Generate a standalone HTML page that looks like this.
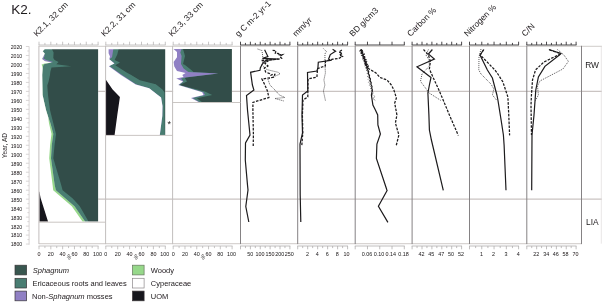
<!DOCTYPE html>
<html><head><meta charset="utf-8"><title>K2</title>
<style>html,body{margin:0;padding:0;background:#fff;overflow:hidden}svg{display:block}</style>
</head><body>
<svg width="602" height="302" viewBox="0 0 602 302">
<defs><filter id="soft" x="0" y="0" width="602" height="302" filterUnits="userSpaceOnUse"><feGaussianBlur stdDeviation="0.38"/></filter><filter id="softt" x="0" y="0" width="602" height="302" filterUnits="userSpaceOnUse"><feGaussianBlur stdDeviation="0.22"/></filter></defs>
<rect width="602" height="302" fill="#ffffff"/>
<g filter="url(#soft)">
<rect width="602" height="302" fill="#ffffff"/>
<rect x="36.4" y="46.3" width="61.7" height="178.3" fill="#324d48"/>
<polygon points="36.4,47.3 52.0,47.3 52.0,49.3 53.6,52.6 53.3,58.0 54.6,60.0 58.6,62.0 56.3,64.3 71.2,66.3 51.5,67.6 50.3,72.0 50.0,75.0 48.6,81.6 47.3,85.6 48.0,95.0 50.0,110.0 53.3,123.3 56.0,134.0 54.6,145.0 53.3,158.3 57.2,171.6 61.2,185.0 62.6,190.3 72.5,198.3 79.8,206.3 88.5,221.6 88.5,223.6 36.4,223.6" fill="#497d72"/>
<polygon points="36.4,47.3 44.5,47.3 44.5,49.3 42.7,51.3 44.7,53.6 44.4,56.6 43.4,58.6 46.8,60.2 53.2,62.0 44.6,64.0 43.3,65.3 42.6,68.6 42.2,75.0 42.6,95.0 46.0,110.0 48.6,118.0 50.5,123.3 53.3,134.0 51.8,145.0 51.0,158.3 54.7,185.0 55.9,190.3 74.5,206.3 85.1,221.6 85.1,223.6 36.4,223.6" fill="#9080c4"/>
<polygon points="36.4,47.3 44.5,47.3 44.5,49.3 42.7,51.3 44.7,53.6 43.6,56.0 42.0,58.9 45.0,61.3 51.8,62.5 44.6,64.0 43.3,65.3 42.6,68.6 42.2,75.0 42.6,95.0 46.0,110.0 48.6,118.0 50.5,123.3 53.3,134.0 51.8,145.0 51.0,158.3 54.7,185.0 55.9,190.3 74.5,206.3 85.1,221.6 85.1,223.6 36.4,223.6" fill="#96d88a"/>
<polygon points="36.4,47.3 44.5,47.3 44.5,49.3 42.7,51.3 44.7,53.6 43.6,56.0 42.0,58.9 45.0,61.3 51.8,62.5 44.6,63.6 41.6,64.4 42.4,66.8 42.6,68.6 42.2,75.0 42.6,95.0 46.0,110.0 48.2,117.0 49.0,123.3 51.5,134.0 50.1,145.0 49.2,158.3 52.6,185.0 53.2,190.3 71.8,206.3 82.5,221.6 82.5,223.6 36.4,223.6" fill="#ffffff"/>
<polygon points="36,191.8 39.4,191.8 40.6,198 42.8,205 48.0,221.6 48.5,225 36,225" fill="#17121a"/>
<polygon points="35.4,45.3 99.1,45.3 99.1,49.3 39.4,49.3 39.4,221.6 99.1,221.6 99.1,225.6 35.4,225.6" fill="#fff"/>
<rect x="102.9" y="46.3" width="62.3" height="91.6" fill="#324d48"/>
<polygon points="102.9,47.3 118.6,47.3 118.6,49.3 117.3,54.6 114.6,60.0 120.0,62.6 115.3,65.3 126.6,72.6 131.2,75.0 139.9,80.3 155.8,84.3 162.5,89.6 164.5,92.5 164.6,115.0 164.9,134.9 164.9,136.9 102.9,136.9" fill="#497d72"/>
<polygon points="102.9,47.3 113.3,47.3 113.3,49.3 112.0,57.3 109.3,59.3 114.6,63.3 109.3,66.0 121.3,74.5 135.9,84.3 149.2,88.3 161.1,97.6 162.5,106.0 162.3,116.0 159.8,134.9 159.8,136.9 102.9,136.9" fill="#9080c4"/>
<polygon points="102.9,47.3 108.6,47.3 108.6,49.3 108.6,53.3 110.0,56.6 109.3,59.3 114.4,63.4 108.9,66.2 120.9,74.9 135.7,84.6 149.2,88.3 161.1,97.6 162.5,106.0 162.3,116.0 159.8,134.9 159.8,136.9 102.9,136.9" fill="#ffffff"/>
<polygon points="102,79.7 105.9,79.7 112.6,89.6 119.9,97 117.3,114.9 114.6,134.9 114.3,138 102,138" fill="#17121a"/>
<polygon points="101.9,45.3 166.2,45.3 166.2,49.3 105.9,49.3 105.9,134.9 166.2,134.9 166.2,138.9 101.9,138.9" fill="#fff"/>
<rect x="170.1" y="46.0" width="61.8" height="59.1" fill="#324d48"/>
<polygon points="170.1,47.0 183.0,47.0 183.0,49.0 185.0,56.0 183.0,64.0 185.0,65.0 191.6,70.3 193.5,72.0 218.2,73.6 186.0,77.6 185.0,78.3 187.0,81.6 179.6,85.0 204.9,91.6 212.2,94.9 196.9,98.2 201.9,102.1 201.9,104.1 170.1,104.1" fill="#497d72"/>
<polygon points="170.1,47.0 181.6,47.0 181.6,49.0 180.3,52.6 181.6,56.0 181.0,64.0 183.6,68.6 188.3,72.0 218.2,73.6 185.0,77.6 181.0,78.5 183.5,81.6 178.8,85.0 203.5,92.2 205.0,94.9 192.5,98.0 199.3,102.1 199.3,104.1 170.1,104.1" fill="#9080c4"/>
<polygon points="170.1,47.0 173.6,47.0 173.6,49.0 177.0,52.0 177.0,57.3 173.6,62.0 174.3,66.6 177.0,71.0 185.6,73.0 182.3,75.0 183.6,77.0 176.3,78.5 183.0,81.6 178.3,85.0 202.2,92.2 203.5,94.9 191.0,98.0 198.5,102.1 198.5,104.1 170.1,104.1" fill="#ffffff"/>
<polygon points="169.1,45.0 232.9,45.0 232.9,49.0 173.1,49.0 173.1,102.1 232.9,102.1 232.9,106.1 169.1,106.1" fill="#fff"/>
<g stroke="#a59c98" stroke-width="0.75" fill="none">
<line x1="38.9" y1="46.3" x2="602" y2="46.3" stroke="#cbc6c4" stroke-width="0.9"/>
<line x1="38.9" y1="243.6" x2="581.5" y2="243.6" stroke="#d8d4d2" stroke-width="1.3"/>
<path d="M98.1,91.3 H105.9 M165.2,91.3 H173.1 M231.9,91.3 H602"/>
<line x1="98.1" y1="199.1" x2="602" y2="199.1"/>
<line x1="601.3" y1="46.3" x2="601.3" y2="243.6" stroke="#e0dcdc"/>
</g>
<line x1="38.9" y1="45.8" x2="38.9" y2="244.1" stroke="#c2bebd" stroke-width="1"/>
<line x1="105.6" y1="45.8" x2="105.6" y2="244.1" stroke="#c2bebd" stroke-width="1"/>
<line x1="172.6" y1="45.8" x2="172.6" y2="244.1" stroke="#c2bebd" stroke-width="1"/>
<line x1="240.5" y1="45.8" x2="240.5" y2="244.1" stroke="#858284" stroke-width="1"/>
<line x1="297.7" y1="45.8" x2="297.7" y2="244.1" stroke="#858284" stroke-width="1"/>
<line x1="355.2" y1="45.8" x2="355.2" y2="244.1" stroke="#858284" stroke-width="1"/>
<line x1="412.1" y1="45.8" x2="412.1" y2="244.1" stroke="#858284" stroke-width="1"/>
<line x1="469.5" y1="45.8" x2="469.5" y2="244.1" stroke="#858284" stroke-width="1"/>
<line x1="526.8" y1="45.8" x2="526.8" y2="244.1" stroke="#858284" stroke-width="1"/>
<line x1="581.5" y1="45.8" x2="581.5" y2="244.1" stroke="#858284" stroke-width="1"/>
<line x1="38.9" y1="222.2" x2="105.6" y2="222.2" stroke="#c4bfbc" stroke-width="0.9"/>
<line x1="105.6" y1="135.4" x2="172.6" y2="135.4" stroke="#c4bfbc" stroke-width="0.9"/>
<line x1="172.6" y1="102.5" x2="240.5" y2="102.5" stroke="#c4bfbc" stroke-width="0.9"/>
<g stroke="#b9b6b6" stroke-width="0.80" fill="none">
<line x1="38.6" y1="45.0" x2="98.5" y2="45.0"/>
<line x1="39.00" y1="45.0" x2="39.00" y2="41.7"/>
<line x1="44.91" y1="45.0" x2="44.91" y2="42.9"/>
<line x1="50.82" y1="45.0" x2="50.82" y2="41.7"/>
<line x1="56.73" y1="45.0" x2="56.73" y2="42.9"/>
<line x1="62.64" y1="45.0" x2="62.64" y2="41.7"/>
<line x1="68.55" y1="45.0" x2="68.55" y2="42.9"/>
<line x1="74.46" y1="45.0" x2="74.46" y2="41.7"/>
<line x1="80.37" y1="45.0" x2="80.37" y2="42.9"/>
<line x1="86.28" y1="45.0" x2="86.28" y2="41.7"/>
<line x1="92.19" y1="45.0" x2="92.19" y2="42.9"/>
<line x1="98.10" y1="45.0" x2="98.10" y2="41.7"/>
</g>
<g stroke="#b9b6b6" stroke-width="0.80" fill="none">
<line x1="38.6" y1="246.0" x2="98.5" y2="246.0"/>
<line x1="39.00" y1="246.0" x2="39.00" y2="249.3"/>
<line x1="44.91" y1="246.0" x2="44.91" y2="248.1"/>
<line x1="50.82" y1="246.0" x2="50.82" y2="249.3"/>
<line x1="56.73" y1="246.0" x2="56.73" y2="248.1"/>
<line x1="62.64" y1="246.0" x2="62.64" y2="249.3"/>
<line x1="68.55" y1="246.0" x2="68.55" y2="248.1"/>
<line x1="74.46" y1="246.0" x2="74.46" y2="249.3"/>
<line x1="80.37" y1="246.0" x2="80.37" y2="248.1"/>
<line x1="86.28" y1="246.0" x2="86.28" y2="249.3"/>
<line x1="92.19" y1="246.0" x2="92.19" y2="248.1"/>
<line x1="98.10" y1="246.0" x2="98.10" y2="249.3"/>
</g>
<g stroke="#b9b6b6" stroke-width="0.80" fill="none">
<line x1="105.4" y1="45.0" x2="165.7" y2="45.0"/>
<line x1="105.80" y1="45.0" x2="105.80" y2="41.7"/>
<line x1="111.75" y1="45.0" x2="111.75" y2="42.9"/>
<line x1="117.70" y1="45.0" x2="117.70" y2="41.7"/>
<line x1="123.65" y1="45.0" x2="123.65" y2="42.9"/>
<line x1="129.60" y1="45.0" x2="129.60" y2="41.7"/>
<line x1="135.55" y1="45.0" x2="135.55" y2="42.9"/>
<line x1="141.50" y1="45.0" x2="141.50" y2="41.7"/>
<line x1="147.45" y1="45.0" x2="147.45" y2="42.9"/>
<line x1="153.40" y1="45.0" x2="153.40" y2="41.7"/>
<line x1="159.35" y1="45.0" x2="159.35" y2="42.9"/>
<line x1="165.30" y1="45.0" x2="165.30" y2="41.7"/>
</g>
<g stroke="#b9b6b6" stroke-width="0.80" fill="none">
<line x1="105.4" y1="246.0" x2="165.7" y2="246.0"/>
<line x1="105.80" y1="246.0" x2="105.80" y2="249.3"/>
<line x1="111.75" y1="246.0" x2="111.75" y2="248.1"/>
<line x1="117.70" y1="246.0" x2="117.70" y2="249.3"/>
<line x1="123.65" y1="246.0" x2="123.65" y2="248.1"/>
<line x1="129.60" y1="246.0" x2="129.60" y2="249.3"/>
<line x1="135.55" y1="246.0" x2="135.55" y2="248.1"/>
<line x1="141.50" y1="246.0" x2="141.50" y2="249.3"/>
<line x1="147.45" y1="246.0" x2="147.45" y2="248.1"/>
<line x1="153.40" y1="246.0" x2="153.40" y2="249.3"/>
<line x1="159.35" y1="246.0" x2="159.35" y2="248.1"/>
<line x1="165.30" y1="246.0" x2="165.30" y2="249.3"/>
</g>
<g stroke="#b9b6b6" stroke-width="0.80" fill="none">
<line x1="172.8" y1="45.0" x2="232.5" y2="45.0"/>
<line x1="173.20" y1="45.0" x2="173.20" y2="41.7"/>
<line x1="179.09" y1="45.0" x2="179.09" y2="42.9"/>
<line x1="184.98" y1="45.0" x2="184.98" y2="41.7"/>
<line x1="190.87" y1="45.0" x2="190.87" y2="42.9"/>
<line x1="196.76" y1="45.0" x2="196.76" y2="41.7"/>
<line x1="202.65" y1="45.0" x2="202.65" y2="42.9"/>
<line x1="208.54" y1="45.0" x2="208.54" y2="41.7"/>
<line x1="214.43" y1="45.0" x2="214.43" y2="42.9"/>
<line x1="220.32" y1="45.0" x2="220.32" y2="41.7"/>
<line x1="226.21" y1="45.0" x2="226.21" y2="42.9"/>
<line x1="232.10" y1="45.0" x2="232.10" y2="41.7"/>
</g>
<g stroke="#b9b6b6" stroke-width="0.80" fill="none">
<line x1="172.8" y1="246.0" x2="232.5" y2="246.0"/>
<line x1="173.20" y1="246.0" x2="173.20" y2="249.3"/>
<line x1="179.09" y1="246.0" x2="179.09" y2="248.1"/>
<line x1="184.98" y1="246.0" x2="184.98" y2="249.3"/>
<line x1="190.87" y1="246.0" x2="190.87" y2="248.1"/>
<line x1="196.76" y1="246.0" x2="196.76" y2="249.3"/>
<line x1="202.65" y1="246.0" x2="202.65" y2="248.1"/>
<line x1="208.54" y1="246.0" x2="208.54" y2="249.3"/>
<line x1="214.43" y1="246.0" x2="214.43" y2="248.1"/>
<line x1="220.32" y1="246.0" x2="220.32" y2="249.3"/>
<line x1="226.21" y1="246.0" x2="226.21" y2="248.1"/>
<line x1="232.10" y1="246.0" x2="232.10" y2="249.3"/>
</g>
<g stroke="#403e40" stroke-width="0.95" fill="none">
<line x1="240.1" y1="45.0" x2="290.3" y2="45.0"/>
<line x1="240.50" y1="45.0" x2="240.50" y2="41.7"/>
<line x1="245.44" y1="45.0" x2="245.44" y2="42.9"/>
<line x1="250.38" y1="45.0" x2="250.38" y2="41.7"/>
<line x1="255.32" y1="45.0" x2="255.32" y2="42.9"/>
<line x1="260.26" y1="45.0" x2="260.26" y2="41.7"/>
<line x1="265.20" y1="45.0" x2="265.20" y2="42.9"/>
<line x1="270.14" y1="45.0" x2="270.14" y2="41.7"/>
<line x1="275.08" y1="45.0" x2="275.08" y2="42.9"/>
<line x1="280.02" y1="45.0" x2="280.02" y2="41.7"/>
<line x1="284.96" y1="45.0" x2="284.96" y2="42.9"/>
<line x1="289.90" y1="45.0" x2="289.90" y2="41.7"/>
</g>
<g stroke="#b0adad" stroke-width="0.80" fill="none">
<line x1="240.1" y1="246.0" x2="290.3" y2="246.0"/>
<line x1="240.50" y1="246.0" x2="240.50" y2="249.3"/>
<line x1="245.44" y1="246.0" x2="245.44" y2="248.1"/>
<line x1="250.38" y1="246.0" x2="250.38" y2="249.3"/>
<line x1="255.32" y1="246.0" x2="255.32" y2="248.1"/>
<line x1="260.26" y1="246.0" x2="260.26" y2="249.3"/>
<line x1="265.20" y1="246.0" x2="265.20" y2="248.1"/>
<line x1="270.14" y1="246.0" x2="270.14" y2="249.3"/>
<line x1="275.08" y1="246.0" x2="275.08" y2="248.1"/>
<line x1="280.02" y1="246.0" x2="280.02" y2="249.3"/>
<line x1="284.96" y1="246.0" x2="284.96" y2="248.1"/>
<line x1="289.90" y1="246.0" x2="289.90" y2="249.3"/>
</g>
<g stroke="#403e40" stroke-width="0.95" fill="none">
<line x1="297.3" y1="45.0" x2="348.0" y2="45.0"/>
<line x1="297.70" y1="45.0" x2="297.70" y2="41.7"/>
<line x1="302.69" y1="45.0" x2="302.69" y2="42.9"/>
<line x1="307.68" y1="45.0" x2="307.68" y2="41.7"/>
<line x1="312.67" y1="45.0" x2="312.67" y2="42.9"/>
<line x1="317.66" y1="45.0" x2="317.66" y2="41.7"/>
<line x1="322.65" y1="45.0" x2="322.65" y2="42.9"/>
<line x1="327.64" y1="45.0" x2="327.64" y2="41.7"/>
<line x1="332.63" y1="45.0" x2="332.63" y2="42.9"/>
<line x1="337.62" y1="45.0" x2="337.62" y2="41.7"/>
<line x1="342.61" y1="45.0" x2="342.61" y2="42.9"/>
<line x1="347.60" y1="45.0" x2="347.60" y2="41.7"/>
</g>
<g stroke="#b0adad" stroke-width="0.80" fill="none">
<line x1="297.3" y1="246.0" x2="348.0" y2="246.0"/>
<line x1="297.70" y1="246.0" x2="297.70" y2="249.3"/>
<line x1="302.69" y1="246.0" x2="302.69" y2="248.1"/>
<line x1="307.68" y1="246.0" x2="307.68" y2="249.3"/>
<line x1="312.67" y1="246.0" x2="312.67" y2="248.1"/>
<line x1="317.66" y1="246.0" x2="317.66" y2="249.3"/>
<line x1="322.65" y1="246.0" x2="322.65" y2="248.1"/>
<line x1="327.64" y1="246.0" x2="327.64" y2="249.3"/>
<line x1="332.63" y1="246.0" x2="332.63" y2="248.1"/>
<line x1="337.62" y1="246.0" x2="337.62" y2="249.3"/>
<line x1="342.61" y1="246.0" x2="342.61" y2="248.1"/>
<line x1="347.60" y1="246.0" x2="347.60" y2="249.3"/>
</g>
<g stroke="#403e40" stroke-width="0.95" fill="none">
<line x1="354.8" y1="45.0" x2="404.7" y2="45.0"/>
<line x1="355.20" y1="45.0" x2="355.20" y2="41.7"/>
<line x1="367.48" y1="45.0" x2="367.48" y2="41.7"/>
<line x1="379.75" y1="45.0" x2="379.75" y2="41.7"/>
<line x1="392.02" y1="45.0" x2="392.02" y2="41.7"/>
<line x1="404.30" y1="45.0" x2="404.30" y2="41.7"/>
</g>
<g stroke="#b0adad" stroke-width="0.80" fill="none">
<line x1="354.8" y1="246.0" x2="404.7" y2="246.0"/>
<line x1="355.20" y1="246.0" x2="355.20" y2="249.3"/>
<line x1="367.48" y1="246.0" x2="367.48" y2="249.3"/>
<line x1="379.75" y1="246.0" x2="379.75" y2="249.3"/>
<line x1="392.02" y1="246.0" x2="392.02" y2="249.3"/>
<line x1="404.30" y1="246.0" x2="404.30" y2="249.3"/>
</g>
<g stroke="#403e40" stroke-width="0.95" fill="none">
<line x1="411.7" y1="45.0" x2="462.0" y2="45.0"/>
<line x1="412.10" y1="45.0" x2="412.10" y2="41.7"/>
<line x1="417.05" y1="45.0" x2="417.05" y2="42.9"/>
<line x1="422.00" y1="45.0" x2="422.00" y2="41.7"/>
<line x1="426.95" y1="45.0" x2="426.95" y2="42.9"/>
<line x1="431.90" y1="45.0" x2="431.90" y2="41.7"/>
<line x1="436.85" y1="45.0" x2="436.85" y2="42.9"/>
<line x1="441.80" y1="45.0" x2="441.80" y2="41.7"/>
<line x1="446.75" y1="45.0" x2="446.75" y2="42.9"/>
<line x1="451.70" y1="45.0" x2="451.70" y2="41.7"/>
<line x1="456.65" y1="45.0" x2="456.65" y2="42.9"/>
<line x1="461.60" y1="45.0" x2="461.60" y2="41.7"/>
</g>
<g stroke="#b0adad" stroke-width="0.80" fill="none">
<line x1="411.7" y1="246.0" x2="462.0" y2="246.0"/>
<line x1="412.10" y1="246.0" x2="412.10" y2="249.3"/>
<line x1="417.05" y1="246.0" x2="417.05" y2="248.1"/>
<line x1="422.00" y1="246.0" x2="422.00" y2="249.3"/>
<line x1="426.95" y1="246.0" x2="426.95" y2="248.1"/>
<line x1="431.90" y1="246.0" x2="431.90" y2="249.3"/>
<line x1="436.85" y1="246.0" x2="436.85" y2="248.1"/>
<line x1="441.80" y1="246.0" x2="441.80" y2="249.3"/>
<line x1="446.75" y1="246.0" x2="446.75" y2="248.1"/>
<line x1="451.70" y1="246.0" x2="451.70" y2="249.3"/>
<line x1="456.65" y1="246.0" x2="456.65" y2="248.1"/>
<line x1="461.60" y1="246.0" x2="461.60" y2="249.3"/>
</g>
<g stroke="#403e40" stroke-width="0.95" fill="none">
<line x1="469.1" y1="45.0" x2="519.0" y2="45.0"/>
<line x1="469.50" y1="45.0" x2="469.50" y2="41.7"/>
<line x1="475.64" y1="45.0" x2="475.64" y2="42.9"/>
<line x1="481.77" y1="45.0" x2="481.77" y2="41.7"/>
<line x1="487.91" y1="45.0" x2="487.91" y2="42.9"/>
<line x1="494.05" y1="45.0" x2="494.05" y2="41.7"/>
<line x1="500.19" y1="45.0" x2="500.19" y2="42.9"/>
<line x1="506.33" y1="45.0" x2="506.33" y2="41.7"/>
<line x1="512.46" y1="45.0" x2="512.46" y2="42.9"/>
<line x1="518.60" y1="45.0" x2="518.60" y2="41.7"/>
</g>
<g stroke="#b0adad" stroke-width="0.80" fill="none">
<line x1="469.1" y1="246.0" x2="519.0" y2="246.0"/>
<line x1="469.50" y1="246.0" x2="469.50" y2="249.3"/>
<line x1="475.64" y1="246.0" x2="475.64" y2="248.1"/>
<line x1="481.77" y1="246.0" x2="481.77" y2="249.3"/>
<line x1="487.91" y1="246.0" x2="487.91" y2="248.1"/>
<line x1="494.05" y1="246.0" x2="494.05" y2="249.3"/>
<line x1="500.19" y1="246.0" x2="500.19" y2="248.1"/>
<line x1="506.33" y1="246.0" x2="506.33" y2="249.3"/>
<line x1="512.46" y1="246.0" x2="512.46" y2="248.1"/>
<line x1="518.60" y1="246.0" x2="518.60" y2="249.3"/>
</g>
<g stroke="#403e40" stroke-width="0.95" fill="none">
<line x1="526.4" y1="45.0" x2="576.5" y2="45.0"/>
<line x1="526.80" y1="45.0" x2="526.80" y2="41.7"/>
<line x1="531.73" y1="45.0" x2="531.73" y2="42.9"/>
<line x1="536.66" y1="45.0" x2="536.66" y2="41.7"/>
<line x1="541.59" y1="45.0" x2="541.59" y2="42.9"/>
<line x1="546.52" y1="45.0" x2="546.52" y2="41.7"/>
<line x1="551.45" y1="45.0" x2="551.45" y2="42.9"/>
<line x1="556.38" y1="45.0" x2="556.38" y2="41.7"/>
<line x1="561.31" y1="45.0" x2="561.31" y2="42.9"/>
<line x1="566.24" y1="45.0" x2="566.24" y2="41.7"/>
<line x1="571.17" y1="45.0" x2="571.17" y2="42.9"/>
<line x1="576.10" y1="45.0" x2="576.10" y2="41.7"/>
</g>
<g stroke="#b0adad" stroke-width="0.80" fill="none">
<line x1="526.4" y1="246.0" x2="576.5" y2="246.0"/>
<line x1="526.80" y1="246.0" x2="526.80" y2="249.3"/>
<line x1="531.73" y1="246.0" x2="531.73" y2="248.1"/>
<line x1="536.66" y1="246.0" x2="536.66" y2="249.3"/>
<line x1="541.59" y1="246.0" x2="541.59" y2="248.1"/>
<line x1="546.52" y1="246.0" x2="546.52" y2="249.3"/>
<line x1="551.45" y1="246.0" x2="551.45" y2="248.1"/>
<line x1="556.38" y1="246.0" x2="556.38" y2="249.3"/>
<line x1="561.31" y1="246.0" x2="561.31" y2="248.1"/>
<line x1="566.24" y1="246.0" x2="566.24" y2="249.3"/>
<line x1="571.17" y1="246.0" x2="571.17" y2="248.1"/>
<line x1="576.10" y1="246.0" x2="576.10" y2="249.3"/>
</g>
<g stroke="#cfcccc" stroke-width="0.8">
<line x1="29.1" y1="46.5" x2="29.1" y2="244.7"/>
<line x1="25.9" y1="244.06" x2="29.1" y2="244.06"/>
<line x1="27.4" y1="239.57" x2="29.1" y2="239.57"/>
<line x1="25.9" y1="235.08" x2="29.1" y2="235.08"/>
<line x1="27.4" y1="230.59" x2="29.1" y2="230.59"/>
<line x1="25.9" y1="226.10" x2="29.1" y2="226.10"/>
<line x1="27.4" y1="221.61" x2="29.1" y2="221.61"/>
<line x1="25.9" y1="217.12" x2="29.1" y2="217.12"/>
<line x1="27.4" y1="212.63" x2="29.1" y2="212.63"/>
<line x1="25.9" y1="208.14" x2="29.1" y2="208.14"/>
<line x1="27.4" y1="203.65" x2="29.1" y2="203.65"/>
<line x1="25.9" y1="199.16" x2="29.1" y2="199.16"/>
<line x1="27.4" y1="194.67" x2="29.1" y2="194.67"/>
<line x1="25.9" y1="190.18" x2="29.1" y2="190.18"/>
<line x1="27.4" y1="185.69" x2="29.1" y2="185.69"/>
<line x1="25.9" y1="181.20" x2="29.1" y2="181.20"/>
<line x1="27.4" y1="176.71" x2="29.1" y2="176.71"/>
<line x1="25.9" y1="172.22" x2="29.1" y2="172.22"/>
<line x1="27.4" y1="167.73" x2="29.1" y2="167.73"/>
<line x1="25.9" y1="163.24" x2="29.1" y2="163.24"/>
<line x1="27.4" y1="158.75" x2="29.1" y2="158.75"/>
<line x1="25.9" y1="154.26" x2="29.1" y2="154.26"/>
<line x1="27.4" y1="149.77" x2="29.1" y2="149.77"/>
<line x1="25.9" y1="145.28" x2="29.1" y2="145.28"/>
<line x1="27.4" y1="140.79" x2="29.1" y2="140.79"/>
<line x1="25.9" y1="136.30" x2="29.1" y2="136.30"/>
<line x1="27.4" y1="131.81" x2="29.1" y2="131.81"/>
<line x1="25.9" y1="127.32" x2="29.1" y2="127.32"/>
<line x1="27.4" y1="122.83" x2="29.1" y2="122.83"/>
<line x1="25.9" y1="118.34" x2="29.1" y2="118.34"/>
<line x1="27.4" y1="113.85" x2="29.1" y2="113.85"/>
<line x1="25.9" y1="109.36" x2="29.1" y2="109.36"/>
<line x1="27.4" y1="104.87" x2="29.1" y2="104.87"/>
<line x1="25.9" y1="100.38" x2="29.1" y2="100.38"/>
<line x1="27.4" y1="95.89" x2="29.1" y2="95.89"/>
<line x1="25.9" y1="91.40" x2="29.1" y2="91.40"/>
<line x1="27.4" y1="86.91" x2="29.1" y2="86.91"/>
<line x1="25.9" y1="82.42" x2="29.1" y2="82.42"/>
<line x1="27.4" y1="77.93" x2="29.1" y2="77.93"/>
<line x1="25.9" y1="73.44" x2="29.1" y2="73.44"/>
<line x1="27.4" y1="68.95" x2="29.1" y2="68.95"/>
<line x1="25.9" y1="64.46" x2="29.1" y2="64.46"/>
<line x1="27.4" y1="59.97" x2="29.1" y2="59.97"/>
<line x1="25.9" y1="55.48" x2="29.1" y2="55.48"/>
<line x1="27.4" y1="50.99" x2="29.1" y2="50.99"/>
<line x1="25.9" y1="46.50" x2="29.1" y2="46.50"/>
</g>
<polyline points="264.6,49.7 267.9,56.6 262.6,58.3 278.6,59.0 266.0,60.3 262.3,64.0 260.3,68.0 260.0,70.3 250.6,72.3 252.4,85.0 253.9,90.0 246.5,95.5 247.5,110.0 250.0,135.0 245.5,143.0 245.3,160.0 247.5,185.0 248.0,190.0 245.8,206.5 248.8,222.0" fill="none" stroke="#1c1a1c" stroke-width="1.2" stroke-linejoin="miter"/>
<polyline points="272.6,50.3 276.0,50.6 275.3,53.3 278.6,53.6 278.0,55.0 282.6,54.6 279.9,56.6 281.6,58.3 278.6,59.1 261.0,60.5 266.0,61.0 267.6,61.5 265.0,63.5 267.9,66.0 264.3,68.0 265.6,72.0 269.6,73.6 270.9,75.3 272.9,74.3 274.9,74.3 273.6,77.3 261.9,79.0 264.9,85.0 267.4,91.0 268.9,97.5 252.9,102.4 252.9,110.0 253.4,135.0 253.2,146.5" fill="none" stroke="#1c1a1c" stroke-width="1.25" stroke-dasharray="2.6,1.3"/>
<polyline points="257.6,49.0 262.0,50.6 262.6,55.3 263.0,60.0 262.0,65.0 266.9,69.6 278.2,72.3 280.2,74.0 267.9,79.0 269.9,85.0 274.9,90.0 279.4,95.0 284.9,97.5 274.9,98.5 283.9,101.0" fill="none" stroke="#1c1a1c" stroke-width="0.75" stroke-dasharray="1,1.05"/>
<polyline points="332.6,49.3 335.6,51.3 333.9,52.3 330.3,54.6 328.6,59.0 330.6,60.3 318.3,62.2 317.9,68.0 316.9,71.0 307.5,72.5 307.8,91.0 302.5,95.0 302.0,115.0 302.5,133.0 300.0,144.0 300.2,195.0 300.8,222.0" fill="none" stroke="#1c1a1c" stroke-width="1.2" stroke-linejoin="miter"/>
<polyline points="341.9,50.0 338.9,52.0 342.4,53.5 339.4,55.0 342.4,56.5 338.9,58.4 332.9,59.1 325.4,61.0 325.4,66.0 321.9,67.0 317.9,68.5 317.4,71.0 316.9,77.0 308.0,79.0 307.8,97.0 303.0,100.0 302.4,115.0 302.8,133.0 301.8,145.5" fill="none" stroke="#1c1a1c" stroke-width="1.25" stroke-dasharray="2.6,1.3"/>
<polyline points="323.4,48.5 326.4,51.5 324.9,54.0 325.1,67.0 325.4,73.0 323.9,80.0 324.9,85.0 323.4,91.0 325.4,100.5" fill="none" stroke="#1c1a1c" stroke-width="0.75" stroke-dasharray="1,1.05"/>
<polyline points="361.8,49.5 360.5,50.7 362.7,52.0 361.4,53.2 363.7,54.4 362.5,55.7 364.3,56.9 363.1,58.1 365.3,59.4 364.2,60.6 366.5,61.8 365.0,63.1 367.3,64.3 365.9,65.5 368.1,66.8 366.9,68.0 367.6,69.8 368.7,71.7 368.3,73.5 369.5,75.3 369.2,77.2 370.4,79.0 370.1,80.8 371.2,82.7 370.9,84.5 372.0,86.3 371.7,88.2 372.4,90.0 371.4,95.0 372.9,105.0 375.4,110.0 377.7,115.0 377.9,125.0 380.4,134.0 376.9,144.0 376.4,158.4 386.9,190.0 387.1,190.5 378.4,206.2 387.9,222.4" fill="none" stroke="#1c1a1c" stroke-width="1.2" stroke-linejoin="miter"/>
<polyline points="360.5,49.6 363.2,51.1 361.6,52.6 364.1,54.1 362.5,55.6 364.8,57.1 363.5,58.6 366.1,60.0 364.8,61.5 366.9,63.0 365.5,64.5 368.1,66.0 366.6,67.5 369.3,69.0 376.0,73.0 380.0,77.5 387.0,80.0 391.4,85.0 393.9,90.0 396.4,98.0 394.7,103.0 396.9,115.0 395.4,123.0 397.4,130.0 398.9,135.0 396.1,146.0" fill="none" stroke="#1c1a1c" stroke-width="1.25" stroke-dasharray="2.6,1.3"/>
<polyline points="361.5,50.0 359.4,51.1 362.0,52.1 360.2,53.2 362.8,54.2 360.9,55.3 363.7,56.4 362.0,57.4 364.1,58.5 362.7,59.5 365.2,60.6 363.3,61.6 365.8,62.7 364.1,63.8 366.4,64.8 364.8,65.9 367.1,66.9 365.4,68.0 367.3,69.4 366.4,70.9 368.2,72.3 367.1,73.7 368.5,75.1 367.5,76.6 369.4,78.0 368.1,79.4 369.7,80.9 368.5,82.3 370.1,83.7 369.1,85.1 370.8,86.6 371.0,90.0 373.5,92.5 372.0,94.5 375.0,96.5 373.0,98.5 376.0,101.0" fill="none" stroke="#1c1a1c" stroke-width="0.75" stroke-dasharray="1,1.05"/>
<polyline points="432.4,49.5 428.4,54.0 434.4,59.0 417.0,66.8 431.0,77.4 429.4,85.0 427.9,93.0 428.9,115.0 429.4,130.0 431.4,140.0 443.3,190.4" fill="none" stroke="#1c1a1c" stroke-width="1.2" stroke-linejoin="miter"/>
<polyline points="423.5,49.5 428.4,55.0 430.4,61.4 429.4,69.0 432.9,77.0 438.9,90.0 441.9,97.0 449.4,115.0 458.3,135.4" fill="none" stroke="#1c1a1c" stroke-width="1.25" stroke-dasharray="2.6,1.3"/>
<polyline points="428.4,49.5 426.0,55.0 429.0,60.0 429.4,66.0 422.0,74.0 420.5,81.4 427.0,90.0 428.4,92.5 440.9,100.5" fill="none" stroke="#1c1a1c" stroke-width="0.75" stroke-dasharray="1,1.05"/>
<polyline points="483.9,49.5 480.0,55.0 487.4,70.0 492.4,78.0 496.9,95.0 497.9,100.0 501.1,120.0 503.4,135.0 504.1,145.0 506.0,190.2" fill="none" stroke="#1c1a1c" stroke-width="1.2" stroke-linejoin="miter"/>
<polyline points="483.5,49.8 480.3,55.0 494.9,70.0 497.9,74.0 502.9,82.0 506.9,94.0 507.9,97.0 508.9,118.0 509.6,135.4" fill="none" stroke="#1c1a1c" stroke-width="1.25" stroke-dasharray="2.6,1.3"/>
<polyline points="481.0,49.0 479.0,57.0 478.8,70.0 481.0,74.0 490.9,84.0 493.9,89.0 492.4,95.0 496.9,100.5" fill="none" stroke="#1c1a1c" stroke-width="0.75" stroke-dasharray="1,1.05"/>
<polyline points="548.9,49.5 560.9,53.5 559.4,55.0 544.9,66.4 538.4,77.0 535.8,90.0 534.0,115.0 532.0,135.0 531.7,190.2" fill="none" stroke="#1c1a1c" stroke-width="1.2" stroke-linejoin="miter"/>
<polyline points="549.5,49.9 560.5,53.6 559.9,54.2 543.9,62.0 535.5,70.0 532.5,80.0 531.5,94.0 531.0,105.0 531.5,135.0" fill="none" stroke="#1c1a1c" stroke-width="1.25" stroke-dasharray="2.6,1.3"/>
<polyline points="557.4,49.5 563.9,55.0 568.4,61.4 562.9,69.0 539.9,81.0 537.5,86.0 538.4,95.0 535.5,100.5" fill="none" stroke="#1c1a1c" stroke-width="0.75" stroke-dasharray="1,1.05"/>
<rect x="15.0" y="265.2" width="11.6" height="9.7" fill="#38564f" stroke="#3a3638" stroke-width="0.7"/>
<rect x="15.0" y="278.3" width="11.6" height="9.7" fill="#497d72" stroke="#3a3638" stroke-width="0.7"/>
<rect x="15.0" y="291.1" width="11.6" height="9.7" fill="#9080c4" stroke="#3a3638" stroke-width="0.7"/>
<rect x="132.5" y="265.2" width="11.6" height="9.7" fill="#96d88a" stroke="#66765f" stroke-width="0.7"/>
<rect x="132.5" y="278.3" width="11.6" height="9.7" fill="#ffffff" stroke="#8c888a" stroke-width="0.7"/>
<rect x="132.5" y="291.1" width="11.6" height="9.7" fill="#17121a" stroke="#3a3638" stroke-width="0.7"/>
</g>
<g filter="url(#softt)">
<g font-family="Liberation Sans, sans-serif" font-size="5.2" fill="#1a1618" text-anchor="end">
<text x="22.2" y="246.46">1800</text>
<text x="22.2" y="237.48">1810</text>
<text x="22.2" y="228.50">1820</text>
<text x="22.2" y="219.52">1830</text>
<text x="22.2" y="210.54">1840</text>
<text x="22.2" y="201.56">1850</text>
<text x="22.2" y="192.58">1860</text>
<text x="22.2" y="183.60">1870</text>
<text x="22.2" y="174.62">1880</text>
<text x="22.2" y="165.64">1890</text>
<text x="22.2" y="156.66">1900</text>
<text x="22.2" y="147.68">1910</text>
<text x="22.2" y="138.70">1920</text>
<text x="22.2" y="129.72">1930</text>
<text x="22.2" y="120.74">1940</text>
<text x="22.2" y="111.76">1950</text>
<text x="22.2" y="102.78">1960</text>
<text x="22.2" y="93.80">1970</text>
<text x="22.2" y="84.82">1980</text>
<text x="22.2" y="75.84">1990</text>
<text x="22.2" y="66.86">2000</text>
<text x="22.2" y="57.88">2010</text>
<text x="22.2" y="48.90">2020</text>
</g>
<text font-family="Liberation Sans, sans-serif" font-size="6.5" fill="#2a2628" text-anchor="middle" transform="translate(7.2,145.6) rotate(-90)">Year, AD</text>
<text font-family="Liberation Sans, sans-serif" font-size="9" fill="#1a1618" text-anchor="middle" x="169.2" y="126.6">*</text>
<text font-family="Liberation Sans, sans-serif" font-size="13.5" fill="#1e1a1c" x="11.2" y="14.2">K2.</text>
<text font-family="Liberation Sans, sans-serif" font-size="8.4" fill="#1e1a1c" transform="translate(36.9,37.0) rotate(-45)">K2.1, 32 cm</text>
<text font-family="Liberation Sans, sans-serif" font-size="8.4" fill="#1e1a1c" transform="translate(104.4,37.0) rotate(-45)">K2.2, 31 cm</text>
<text font-family="Liberation Sans, sans-serif" font-size="8.4" fill="#1e1a1c" transform="translate(171.9,37.0) rotate(-45)">K2.3, 33 cm</text>
<text font-family="Liberation Sans, sans-serif" font-size="8.4" fill="#1e1a1c" transform="translate(238.6,37.0) rotate(-45)">g C m-2 yr-1</text>
<text font-family="Liberation Sans, sans-serif" font-size="8.4" fill="#1e1a1c" transform="translate(296.0,37.0) rotate(-45)">mm/yr</text>
<text font-family="Liberation Sans, sans-serif" font-size="8.4" fill="#1e1a1c" transform="translate(352.8,37.0) rotate(-45)">BD g/cm3</text>
<text font-family="Liberation Sans, sans-serif" font-size="8.4" fill="#1e1a1c" transform="translate(410.5,37.0) rotate(-45)">Carbon %</text>
<text font-family="Liberation Sans, sans-serif" font-size="8.4" fill="#1e1a1c" transform="translate(467.5,37.0) rotate(-45)">Nitrogen %</text>
<text font-family="Liberation Sans, sans-serif" font-size="8.4" fill="#1e1a1c" transform="translate(525.0,37.0) rotate(-45)">C/N</text>
<text font-family="Liberation Sans, sans-serif" font-size="8.4" fill="#1e1a1c" text-anchor="middle" x="592.1" y="67.6">RW</text>
<text font-family="Liberation Sans, sans-serif" font-size="8.4" fill="#1e1a1c" text-anchor="middle" x="592.4" y="224.6">LIA</text>
<g font-family="Liberation Sans, sans-serif" font-size="5.4" fill="#1a1618" text-anchor="middle">
<text x="39.0" y="256.1">0</text>
<text x="50.8" y="256.1">20</text>
<text x="62.6" y="256.1">40</text>
<text x="74.5" y="256.1">60</text>
<text x="86.3" y="256.1">80</text>
<text x="97.5" y="256.1">100</text>
<text x="105.8" y="256.1">0</text>
<text x="117.7" y="256.1">20</text>
<text x="129.6" y="256.1">40</text>
<text x="141.5" y="256.1">60</text>
<text x="153.4" y="256.1">80</text>
<text x="164.7" y="256.1">100</text>
<text x="173.2" y="256.1">0</text>
<text x="185.0" y="256.1">20</text>
<text x="196.8" y="256.1">40</text>
<text x="208.5" y="256.1">60</text>
<text x="220.3" y="256.1">80</text>
<text x="231.5" y="256.1">100</text>
<text x="250.2" y="256.1">50</text>
<text x="260.0" y="256.1">100</text>
<text x="269.9" y="256.1">150</text>
<text x="279.8" y="256.1">200</text>
<text x="289.2" y="256.1">250</text>
<text x="307.5" y="256.1">2</text>
<text x="317.3" y="256.1">4</text>
<text x="327.3" y="256.1">6</text>
<text x="337.2" y="256.1">8</text>
<text x="346.6" y="256.1">10</text>
<text x="366.9" y="256.1">0.06</text>
<text x="378.9" y="256.1">0.10</text>
<text x="390.8" y="256.1">0.14</text>
<text x="403.4" y="256.1">0.18</text>
<text x="421.5" y="256.1">42</text>
<text x="431.3" y="256.1">45</text>
<text x="441.2" y="256.1">47</text>
<text x="451.1" y="256.1">50</text>
<text x="461.0" y="256.1">52</text>
<text x="481.4" y="256.1">1</text>
<text x="493.6" y="256.1">2</text>
<text x="506.0" y="256.1">3</text>
<text x="518.2" y="256.1">4</text>
<text x="536.2" y="256.1">22</text>
<text x="546.2" y="256.1">34</text>
<text x="555.8" y="256.1">46</text>
<text x="565.6" y="256.1">58</text>
<text x="575.4" y="256.1">70</text>
</g>
<text font-family="Liberation Sans, sans-serif" font-size="5.4" fill="#1a1618" text-anchor="middle" transform="translate(67.6,258.3) rotate(45)">%</text>
<text font-family="Liberation Sans, sans-serif" font-size="5.4" fill="#1a1618" text-anchor="middle" transform="translate(134.7,258.3) rotate(45)">%</text>
<text font-family="Liberation Sans, sans-serif" font-size="5.4" fill="#1a1618" text-anchor="middle" transform="translate(201.7,258.3) rotate(45)">%</text>
<text font-family="Liberation Sans, sans-serif" font-size="8" fill="#1e1a1c" transform="translate(32.7,273.1) scale(0.94,1)"><tspan font-style="italic">Sphagnum</tspan></text>
<text font-family="Liberation Sans, sans-serif" font-size="8" fill="#1e1a1c" transform="translate(32.5,286.2) scale(0.94,1)">Ericaceous roots and leaves</text>
<text font-family="Liberation Sans, sans-serif" font-size="8" fill="#1e1a1c" transform="translate(32.0,298.5) scale(0.94,1)">Non-<tspan font-style="italic">Sphagnum</tspan> mosses</text>
<text font-family="Liberation Sans, sans-serif" font-size="8" fill="#1e1a1c" transform="translate(150.8,273.1) scale(0.94,1)">Woody</text>
<text font-family="Liberation Sans, sans-serif" font-size="8" fill="#1e1a1c" transform="translate(150.8,286.2) scale(0.94,1)">Cyperaceae</text>
<text font-family="Liberation Sans, sans-serif" font-size="8" fill="#1e1a1c" transform="translate(150.8,298.5) scale(0.94,1)">UOM</text>
</g>
</svg>
</body></html>
